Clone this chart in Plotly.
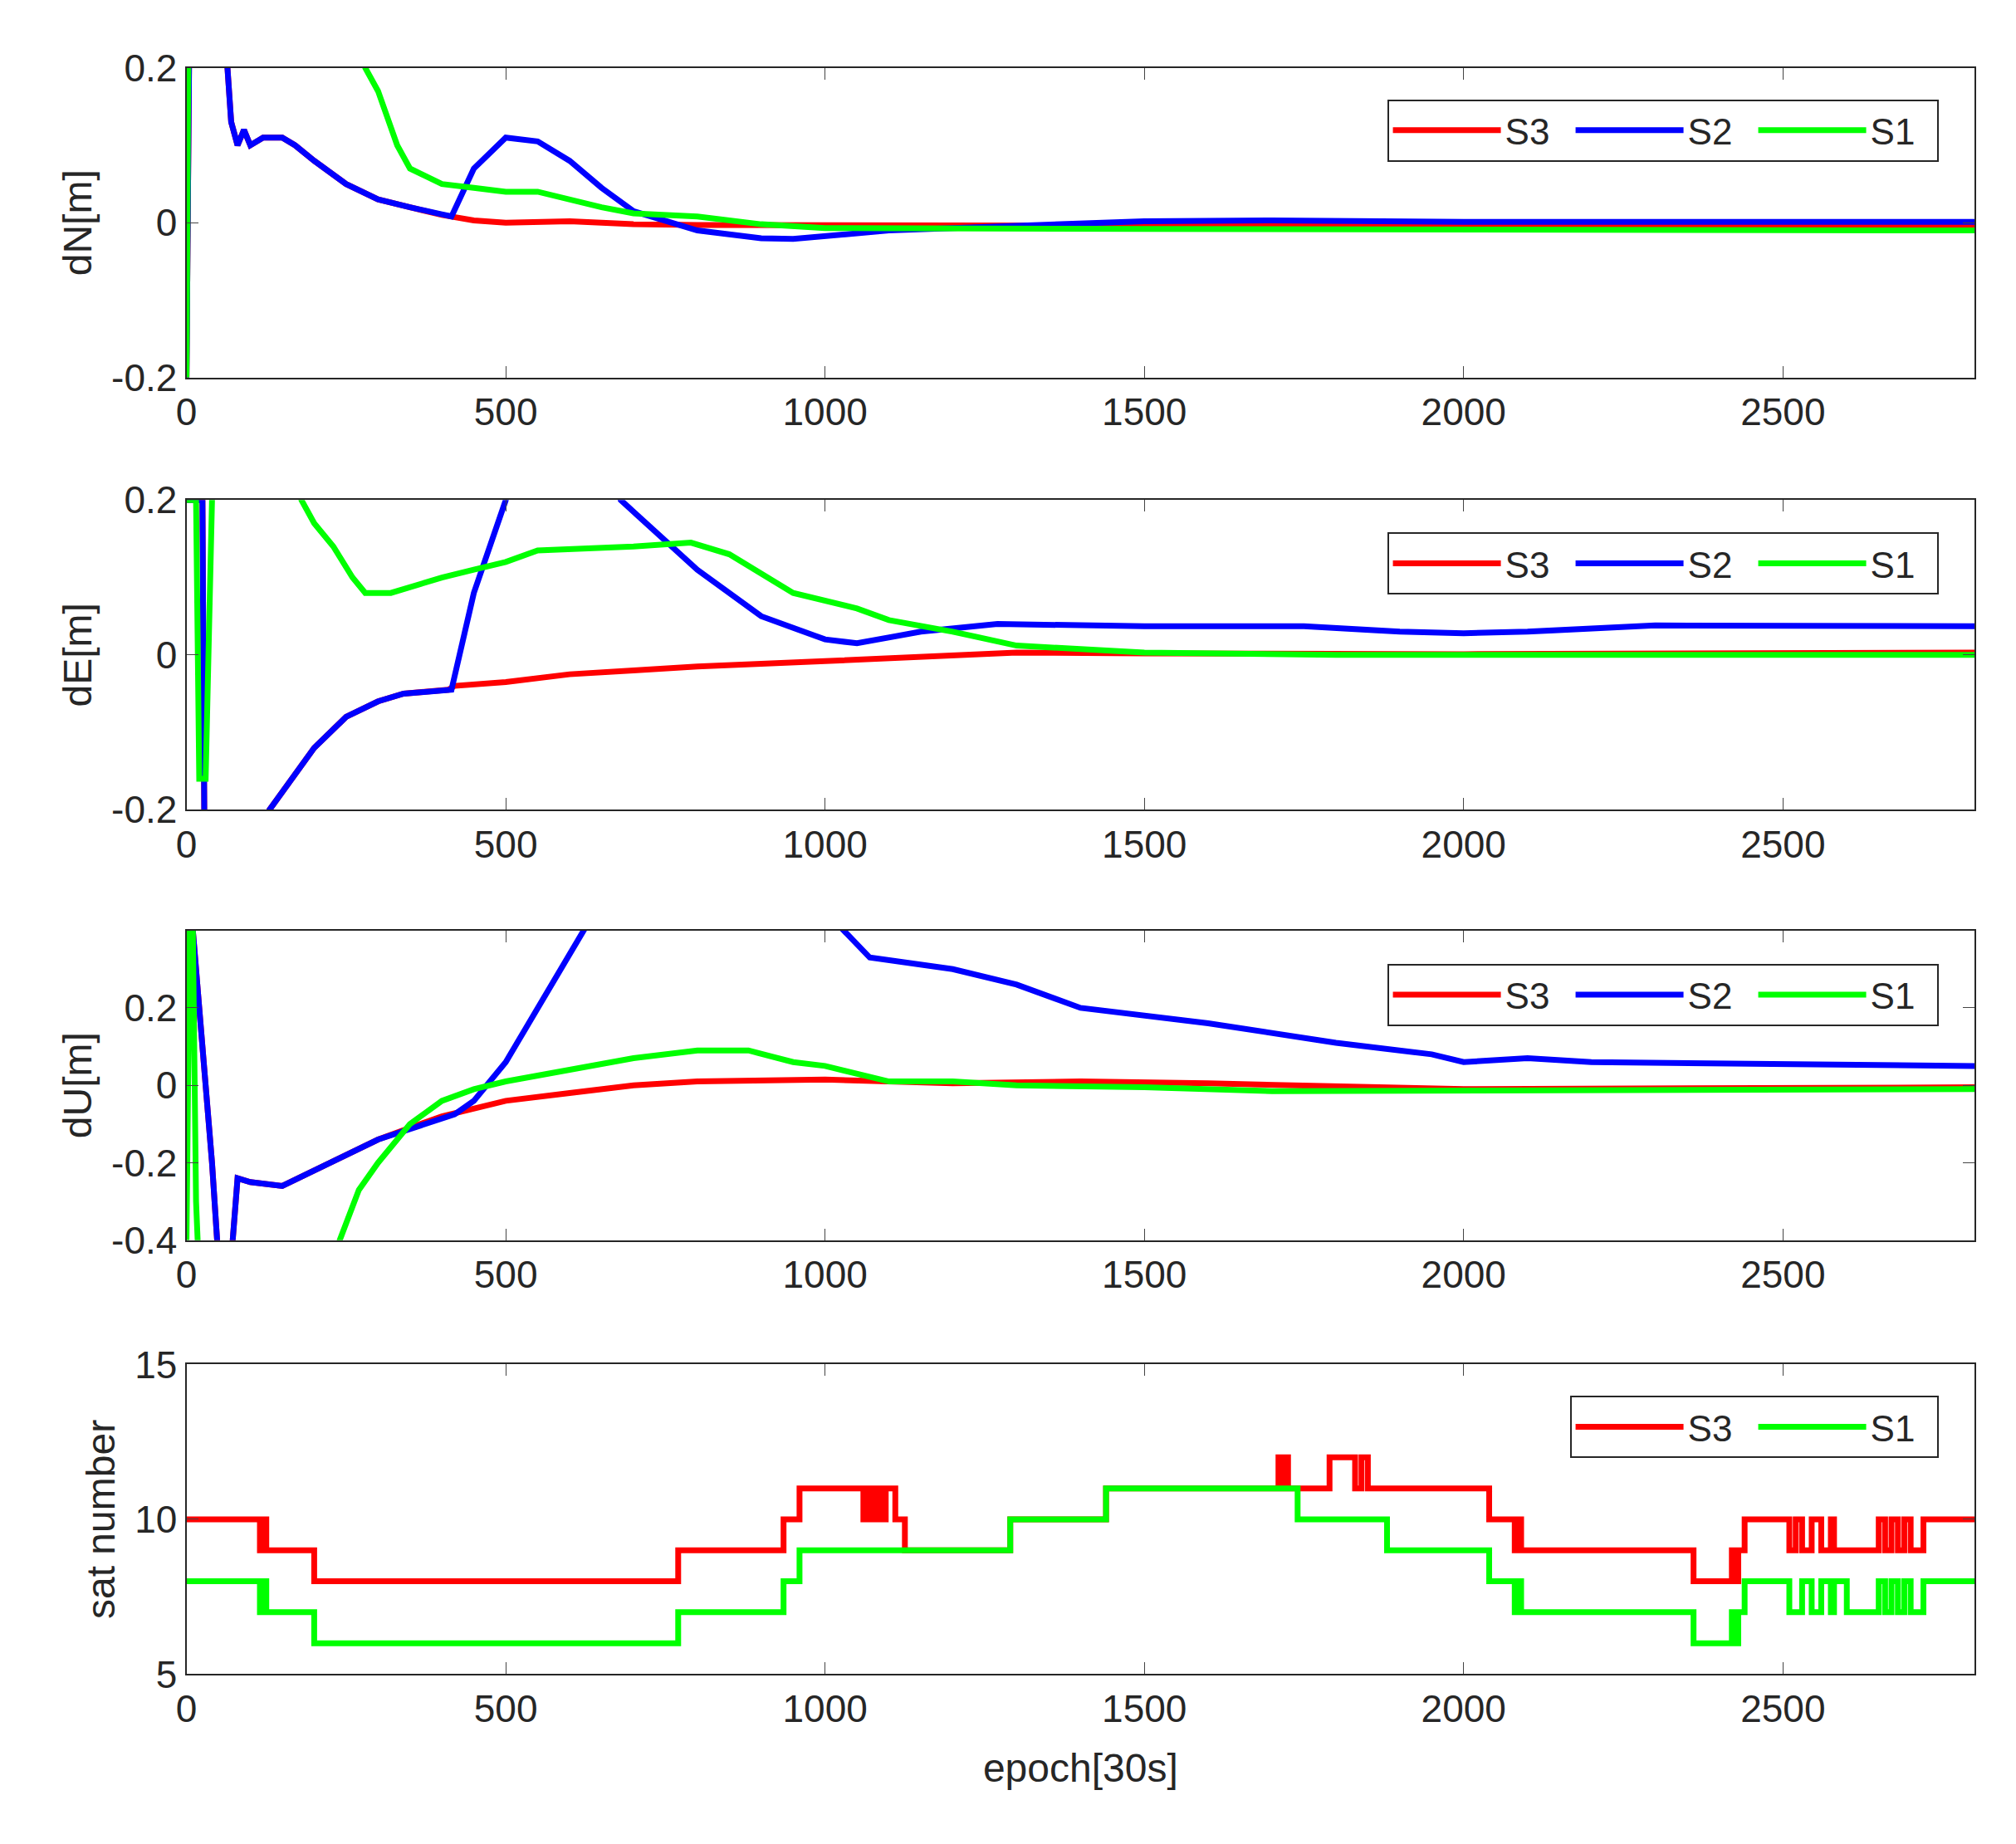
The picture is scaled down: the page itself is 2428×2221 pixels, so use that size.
import plotly.graph_objects as go

# ---- dN ----
dn_s3_x = [0,5,10,60,70,80,90,100,120,150,170,200,250,300,350,400,450,500,600,700,800,1000,1500,2000,2500,2800]
dn_s3_y = [-0.2,0.3,0.5,0.25,0.13,0.1,0.12,0.1,0.11,0.11,0.1,0.08,0.05,0.03,0.02,0.01,0.003,0,0.002,-0.002,-0.003,-0.003,-0.004,-0.005,-0.005,-0.005]
dn_s2_x = [0,5,10,60,70,80,90,100,120,150,170,200,250,300,350,415,450,500,550,600,650,700,800,900,950,1000,1100,1500,1700,2000,2500,2800]
dn_s2_y = [-0.2,0.3,0.5,0.25,0.13,0.1,0.12,0.1,0.11,0.11,0.1,0.08,0.05,0.03,0.02,0.008,0.07,0.11,0.105,0.08,0.045,0.015,-0.01,-0.02,-0.021,-0.017,-0.01,0.002,0.003,0.001,0.002,0.001]
dn_s1_x = [0,3,5,270,280,300,330,350,400,450,500,550,600,650,700,800,900,1000,1500,2000,2800]
dn_s1_y = [-0.2,0.2,0.5,0.25,0.2,0.17,0.1,0.07,0.05,0.045,0.04,0.04,0.03,0.02,0.012,0.008,-0.002,-0.007,-0.008,-0.009,-0.01]

# ---- dE ----
de_s3_x = [0,25,30,130,200,250,300,340,410,420,500,600,700,800,1000,1200,1300,1500,2000,2800]
de_s3_y = [0.2,0.2,-0.5,-0.2,-0.12,-0.08,-0.06,-0.05,-0.045,-0.04,-0.035,-0.025,-0.02,-0.015,-0.008,0,0.003,0.002,0.001,0.003]
de_s2_x = [0,25,30,130,200,250,300,340,415,450,500,520,600,680,800,900,1000,1050,1150,1270,1500,1750,1900,2000,2100,2300,2800]
de_s2_y = [0.2,0.2,-0.5,-0.2,-0.12,-0.08,-0.06,-0.05,-0.045,0.08,0.2,0.3,0.4,0.2,0.11,0.05,0.02,0.015,0.03,0.04,0.037,0.037,0.03,0.028,0.03,0.038,0.037]
de_s1_x = [0,15,20,30,40,50,170,180,200,230,260,280,320,400,450,500,550,700,790,850,950,1050,1100,1200,1300,1500,1800,2800]
de_s1_y = [0.2,0.2,-0.16,-0.16,0.2,0.5,0.3,0.2,0.17,0.14,0.1,0.08,0.08,0.1,0.11,0.12,0.135,0.14,0.145,0.13,0.08,0.06,0.045,0.03,0.012,0.003,0,0]

# ---- dU ----
du_s3_x = [0,10,20,40,50,70,80,100,150,200,300,400,500,600,700,800,1000,1200,1400,1600,2000,2800]
du_s3_y = [0.4,0.4,0.2,-0.2,-0.45,-0.45,-0.24,-0.25,-0.26,-0.22,-0.14,-0.08,-0.04,-0.02,0,0.01,0.015,0.005,0.01,0.005,-0.01,-0.005]
du_s2_x = [0,10,20,40,50,70,80,100,150,200,300,420,450,500,550,620,640,1000,1030,1070,1200,1300,1400,1600,1800,1950,2000,2100,2200,2500,2800]
du_s2_y = [0.4,0.4,0.2,-0.2,-0.45,-0.45,-0.24,-0.25,-0.26,-0.22,-0.14,-0.075,-0.04,0.06,0.2,0.4,0.45,0.45,0.4,0.33,0.3,0.26,0.2,0.16,0.11,0.08,0.06,0.07,0.06,0.055,0.05]
du_s1_x = [0,5,10,15,20,230,240,270,300,350,400,450,500,600,700,800,880,950,1000,1100,1200,1300,1500,1700,2800]
du_s1_y = [-0.4,0.4,0.4,-0.3,-0.5,-0.5,-0.4,-0.27,-0.2,-0.1,-0.04,-0.01,0.01,0.04,0.07,0.09,0.09,0.06,0.05,0.01,0.01,0,-0.005,-0.015,-0.01]

# ---- sat number ----
sat_s3_x = [0,115,120,125,130,200,770,935,960,1060,1065,1070,1075,1080,1085,1090,1095,1110,1125,1290,1440,1710,1715,1720,1725,1740,1790,1830,1840,1850,1880,2040,2080,2085,2090,2100,2360,2420,2425,2430,2440,2510,2520,2530,2545,2560,2575,2580,2600,2650,2660,2670,2680,2690,2700,2720,2800]
sat_s3_y = [10,9,10,9,9,8,9,10,11,10,11,10,11,10,11,10,11,10,9,10,11,12,11,12,11,11,12,11,12,11,11,10,9,10,9,9,8,9,8,9,10,9,10,9,10,9,10,9,9,10,9,10,9,10,9,10,10]
sat_s1_x = [0,115,120,125,200,770,935,960,1290,1440,1740,1880,2040,2080,2085,2090,2100,2360,2420,2425,2430,2440,2510,2530,2545,2560,2575,2580,2600,2650,2660,2670,2680,2690,2700,2720,2800]
sat_s1_y = [8,7,8,7,6,7,8,9,10,11,10,9,8,7,8,7,7,6,7,6,7,8,7,8,7,8,7,8,7,8,7,8,7,8,7,8,8]

RED, BLUE, GREEN = "#ff0000", "#0000ff", "#00ff00"
FONT = "Liberation Sans, Arial"
fig = go.Figure()

panels = [
    (1, [("S3", dn_s3_x, dn_s3_y, RED), ("S2", dn_s2_x, dn_s2_y, BLUE), ("S1", dn_s1_x, dn_s1_y, GREEN)], "legend", "linear"),
    (2, [("S3", de_s3_x, de_s3_y, RED), ("S2", de_s2_x, de_s2_y, BLUE), ("S1", de_s1_x, de_s1_y, GREEN)], "legend2", "linear"),
    (3, [("S3", du_s3_x, du_s3_y, RED), ("S2", du_s2_x, du_s2_y, BLUE), ("S1", du_s1_x, du_s1_y, GREEN)], "legend3", "linear"),
    (4, [("S3", sat_s3_x, sat_s3_y, RED), ("S1", sat_s1_x, sat_s1_y, GREEN)], "legend4", "hv"),
]
for i, series, leg, shape in panels:
    ax = "" if i == 1 else str(i)
    for name, xs, ys, c in series:
        fig.add_trace(go.Scatter(x=xs, y=ys, mode="lines", name=name, legend=leg,
                                 line=dict(color=c, width=7, shape=shape),
                                 xaxis="x" + ax, yaxis="y" + ax))

doms = [(0.806, 0.978), (0.566, 0.738), (0.327, 0.499), (0.086, 0.258)]
yinfo = [("dN[m]", [-0.2, 0.2], [-0.2, 0, 0.2], ["-0.2", "0", "0.2"]),
         ("dE[m]", [-0.2, 0.2], [-0.2, 0, 0.2], ["-0.2", "0", "0.2"]),
         ("dU[m]", [-0.4, 0.4], [-0.4, -0.2, 0, 0.2], ["-0.4", "-0.2", "0", "0.2"]),
         ("sat number", [5, 15], [5, 10, 15], ["5", "10", "15"])]
tickfont = dict(family=FONT, size=46, color="#262626")
titlefont = dict(family=FONT, size=48, color="#262626")
layout = {}
for i in range(4):
    ax = "" if i == 0 else str(i + 1)
    layout["xaxis" + ax] = dict(domain=[0.0843, 0.976], anchor="y" + ax, range=[0, 2800],
                                tickvals=[0, 500, 1000, 1500, 2000, 2500], ticks="inside", ticklen=14,
                                showgrid=False, zeroline=False, showline=True, mirror="ticks",
                                linecolor="#262626", linewidth=2, tickfont=tickfont,
                                title=dict(text="epoch[30s]", font=titlefont, standoff=30) if i == 3 else None)
    t, r, tv, tt = yinfo[i]
    layout["yaxis" + ax] = dict(domain=list(doms[i]), anchor="x" + ax, range=r, tickvals=tv, ticktext=tt,
                                ticks="inside", ticklen=14, showgrid=False, zeroline=False,
                                showline=True, mirror="ticks", linecolor="#262626", linewidth=2,
                                tickfont=tickfont,
                                title=dict(text=t, font=titlefont, standoff=8))
legstyle = dict(orientation="h", xanchor="right", yanchor="top", bgcolor="white",
                bordercolor="#262626", borderwidth=2, font=dict(family=FONT, size=44, color="#262626"),
                itemwidth=130, entrywidth=75, tracegroupgap=0)
layout["legend"] = dict(x=0.958, y=0.9605, **legstyle)
layout["legend2"] = dict(x=0.958, y=0.72, **legstyle)
layout["legend3"] = dict(x=0.958, y=0.4804, **legstyle)
layout["legend4"] = dict(x=0.958, y=0.2405, **legstyle)

fig.update_layout(width=2428, height=2221, margin=dict(l=0, r=0, t=0, b=0),
                  plot_bgcolor="white", paper_bgcolor="white", showlegend=True, **layout)
fig.write_html("out.html")
